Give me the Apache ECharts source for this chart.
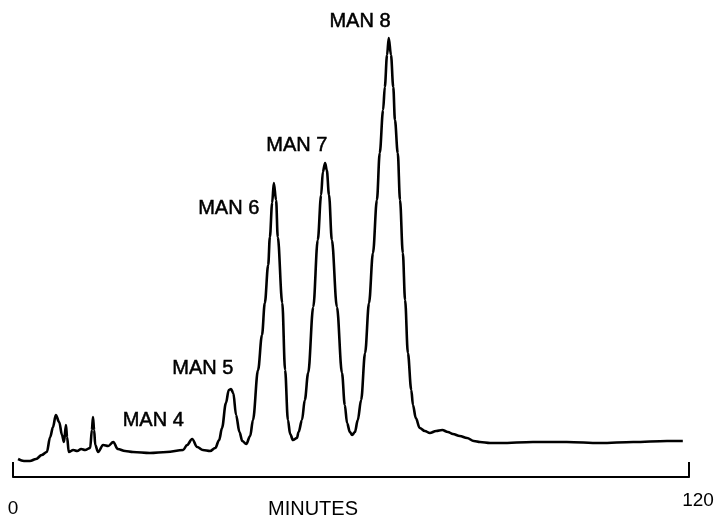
<!DOCTYPE html>
<html>
<head>
<meta charset="utf-8">
<script src="https://cdn.jsdelivr.net/npm/echarts@6/dist/echarts.min.js"></script>
<style>
  html, body { margin: 0; padding: 0; background: #fff; }
  #main { width: 717px; height: 517px; }
</style>
</head>
<body>
<div id="main"></div>
<script>
// retention time (minutes) and detector response (arbitrary units)
var times = [0.9, 1.95, 3.0, 4.1, 5.1, 6.0, 6.6, 7.1, 7.6, 8.2, 8.7, 9.05, 9.4, 9.6, 9.9,
    10.7, 11.4, 12.1, 12.8, 13.7, 14.0, 14.2, 14.4, 14.6, 15.1, 16.0, 16.9, 17.8, 18.6, 19.9,
    21.3, 24.3, 27.3, 30.2, 30.9, 31.8, 32.7, 33.7, 35.0, 35.9, 36.6, 37.1, 37.8, 38.3, 38.7,
    39.1, 39.6, 40.2, 40.7, 41.4, 42.1, 42.6, 43.5, 44.2, 44.7, 45.3, 45.6, 46.0, 46.3, 46.7,
    47.0, 47.8, 48.3, 48.8, 49.2, 49.7, 50.4, 50.7, 51.3, 51.8, 52.4, 53.3, 54.1, 54.7, 55.0,
    55.4, 55.7, 56.1, 56.6, 57.5, 58.4, 58.9, 59.3, 59.8, 60.2, 60.7, 61.2, 61.8, 62.5, 63.2,
    63.9, 64.6, 65.1, 65.7, 66.0, 66.4, 66.7, 67.1, 67.5, 67.8, 68.3, 68.7, 69.2, 69.6, 70.1,
    70.7, 71.0, 71.5, 72.2, 73.1, 74.0, 75.1, 76.2, 77.2, 78.1, 79.3, 80.6, 81.8, 82.9, 84.7,
    86.5, 92.3, 98.3, 104.2, 110.1, 116.1, 118.9];
var signal = [18, 16, 16, 18, 22, 25, 40, 50, 62, 55, 42, 35, 52, 40, 25,
    27, 26, 28, 27, 29, 47, 60, 47, 32, 25, 32, 31, 35, 28, 26,
    25, 24, 25, 27, 32, 38, 30, 27, 26, 29, 37, 49, 74, 87, 88,
    84, 62, 45, 36, 33, 41, 57, 107, 142, 174, 212, 240, 274, 294, 277,
    240, 174, 107, 57, 43, 37, 39, 45, 57, 77, 104, 170, 237, 282, 305,
    314, 307, 282, 237, 170, 104, 72, 54, 45, 42, 45, 57, 77, 124, 174,
    224, 277, 324, 367, 390, 422, 439, 422, 390, 357, 324, 277, 224, 177, 124,
    87, 72, 59, 49, 46, 44, 46, 47, 45, 43, 41, 39, 36, 35, 34,
    34, 35, 35, 34, 35, 36, 36];

// peak names and where their labels sit (minutes, response)
var peakNames = ['MAN 4', 'MAN 5', 'MAN 6', 'MAN 7', 'MAN 8'];
var peakLabelT = [24.9, 33.7, 38.3, 50.4, 61.6];
var peakLabelY = [57, 109, 269, 332, 456];

var tickLabels = {0: '{a|0}', 120: '{b|120}'};

var chart = echarts.init(document.getElementById('main'));

var points = [];
for (var i = 0; i < times.length; i++) {
    points.push([times[i], signal[i]]);
}
var marks = [];
for (var k = 0; k < peakNames.length; k++) {
    marks.push({ name: peakNames[k], coord: [peakLabelT[k], peakLabelY[k]], value: peakNames[k] });
}

var option = {
    animation: false,
    backgroundColor: '#ffffff',
    // axis title sits under the axis, left of centre
    title: {
        text: 'MINUTES',
        left: 268,
        top: 499,
        padding: 0,
        textStyle: {
            color: '#000',
            fontFamily: 'Liberation Sans',
            fontSize: 20,
            fontWeight: 'normal'
        }
    },
    grid: { left: 13, right: 28, top: 0, bottom: 40, containLabel: false, outerBoundsMode: 'none' },
    xAxis: {
        type: 'value',
        min: 0,
        max: 120,
        interval: 120,
        axisLine: { show: true, onZero: false, lineStyle: { color: '#000', width: 2.2 } },
        axisTick: { show: true, inside: true, length: 15, lineStyle: { color: '#000', width: 2 } },
        splitLine: { show: false },
        axisLabel: {
            margin: 14,
            color: '#000',
            fontFamily: 'Liberation Sans',
            fontSize: 19,
            formatter: function (v) { return tickLabels[v] || ''; },
            rich: {
                a: { fontSize: 19, fontFamily: 'Liberation Sans', color: '#000', padding: [8, 0, 0, 0] },
                b: { fontSize: 19, fontFamily: 'Liberation Sans', color: '#000', padding: [0, 0, 0, 18] }
            }
        }
    },
    yAxis: {
        type: 'value',
        min: 0,
        max: 477,
        show: false
    },
    series: [{
        type: 'line',
        data: points,
        symbol: 'none',
        smooth: 0.35,
        smoothMonotone: 'x',
        lineStyle: { color: '#000', width: 2.6 },
        markPoint: {
            symbol: 'circle',
            symbolSize: 0,
            data: marks,
            label: {
                show: true,
                position: 'inside',
                formatter: '{b}',
                color: '#000',
                fontFamily: 'Liberation Sans',
                fontSize: 20,
                textBorderColor: '#000',
                textBorderWidth: 0.5
            }
        }
    }]
};
chart.setOption(option);
</script>
</body>
</html>
